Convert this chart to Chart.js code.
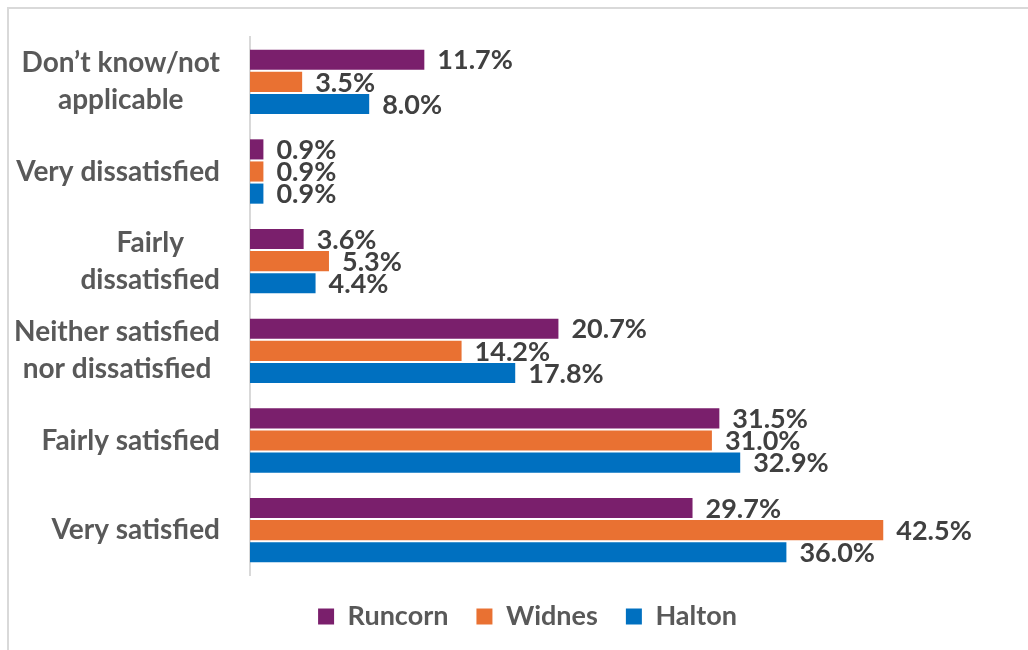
<!DOCTYPE html>
<html>
<head>
<meta charset="utf-8">
<script src="https://cdn.jsdelivr.net/npm/chart.js@4/dist/chart.umd.min.js"></script>
<style>
    html, body { margin: 0; padding: 0; background: #fff; }
    #frame { position: absolute; left: 7px; top: 7px; width: 1030px; height: 650px; border-left: 2px solid #D9D9D9; border-top: 2px solid #D9D9D9; }
    #wrap { position: absolute; left: 0; top: 0; width: 1028px; height: 650px; }
</style>
</head>
<body>
<div id="frame"></div>
<div id="wrap"><canvas id="chart"></canvas></div>
<script>
    // categories, top to bottom (each is a list of lines)
    const categories = [
        ['Don\u2019t know/not', 'applicable'],
        ['Very dissatisfied'],
        ['Fairly', 'dissatisfied'],
        ['Neither satisfied', 'nor dissatisfied'],
        ['Fairly satisfied'],
        ['Very satisfied']
    ];
    const seriesNames = ['Runcorn', 'Widnes', 'Halton'];
    const runcorn = [11.7, 0.9, 3.6, 20.7, 31.5, 29.7];
    const widnes = [3.5, 0.9, 5.3, 14.2, 31.0, 42.5];
    const halton = [8.0, 0.9, 4.4, 17.8, 32.9, 36.0];
    const colors = ['#7A1F6C', '#E97132', '#0070C0'];

    const FONT = 'Lato, "Open Sans", sans-serif';

    // "utils" draws value labels at the end of each bar
    const valueLabels = {
        id: 'valueLabels',
        afterDatasetsDraw(chart) {
            const ctx = chart.ctx;
            ctx.save();
            ctx.font = 'bold 27px ' + FONT;
            ctx.fillStyle = '#404040';
            ctx.textAlign = 'left';
            ctx.textBaseline = 'middle';
            chart.data.datasets.forEach((ds, i) => {
                chart.getDatasetMeta(i).data.forEach((bar, j) => {
                    ctx.fillText(ds.data[j].toFixed(1) + '%', bar.x + 13, bar.y + 1);
                });
            });
            ctx.restore();
        }
    };

    // "utils" draws category labels: block right-aligned, lines centred
    const categoryLabels = {
        id: 'categoryLabels',
        afterDraw(chart) {
            const ctx = chart.ctx;
            const yScale = chart.scales.y;
            const lineH = 37;
            ctx.save();
            ctx.font = 'bold 28px ' + FONT;
            ctx.fillStyle = '#595959';
            ctx.textAlign = 'center';
            ctx.textBaseline = 'middle';
            categories.forEach((lines, i) => {
                const w = Math.max(...lines.map(l => ctx.measureText(l).width));
                const cx = 220 - w / 2;
                const cy = yScale.getPixelForValue(i);
                lines.forEach((line, k) => {
                    ctx.fillText(line, cx, cy + (k - (lines.length - 1) / 2) * lineH);
                });
            });
            ctx.restore();
        }
    };

    new Chart(document.getElementById('chart'), {
        type: 'bar',
        data: {
            labels: categories,
            datasets: [runcorn, widnes, halton].map((d, i) => ({
                label: seriesNames[i],
                data: d,
                backgroundColor: colors[i],
                categoryPercentage: 0.74,
                barPercentage: 0.91
            }))
        },
        options: {
            indexAxis: 'y',
            responsive: true,
            maintainAspectRatio: false,
            animation: false,
            layout: { padding: { left: 60, right: 33, top: 37, bottom: 10 } },
            scales: {
                x: {
                    min: 0, max: 50,
                    ticks: { display: false },
                    grid: { display: false },
                    border: { display: false },
                    afterFit: s => { s.height = 0; }
                },
                y: {
                    ticks: { display: false },
                    grid: { display: false },
                    border: { display: true, color: '#D9D9D9', width: 2 },
                    afterFit: s => { s.width = 190; }
                }
            },
            plugins: {
                legend: {
                    position: 'bottom',
                    labels: {
                        boxWidth: 16,
                        boxHeight: 16,
                        padding: 28,
                        color: '#595959',
                        font: { family: FONT, size: 27, weight: 'bold' }
                    }
                },
                tooltip: { enabled: false }
            }
        },
        plugins: [valueLabels, categoryLabels]
    });
</script>
</body>
</html>
